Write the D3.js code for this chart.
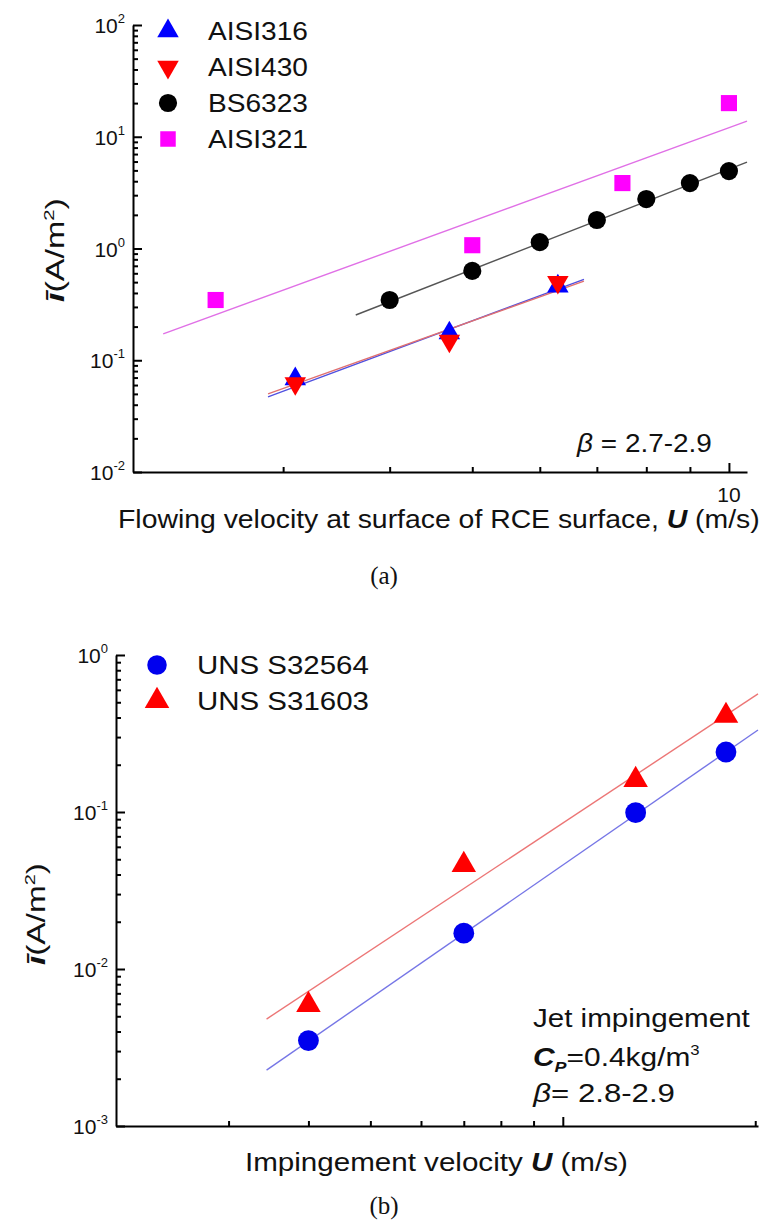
<!DOCTYPE html>
<html>
<head>
<meta charset="utf-8">
<script src="https://cdn.jsdelivr.net/npm/d3@7"></script>
<style>
  body { margin: 0; background: #fff; }
  svg { display: block; font-family: "Liberation Sans", Arial, sans-serif; }
  .axis path, .axis line { stroke: #000; stroke-width: 2; }
</style>
</head>
<body>
<svg id="chart" width="767" height="1222"></svg>
<script>
// ---- panel (a) data ----
var aX316 = [3.1, 4.7, 6.3];
var aY316 = [0.068, 0.175, 0.46];
var aX430 = [3.1, 4.7, 6.3];
var aY430 = [0.062, 0.149, 0.50];
var aXbs = [4, 5, 6, 7, 8, 9, 10];
var aYbs = [0.346, 0.63, 1.14, 1.8, 2.77, 3.85, 4.93];
var aX321 = [2.5, 5, 7.5, 10];
var aY321 = [0.346, 1.07, 3.85, 20];
// fitted lines, [x, y] end points
var aFit316 = [[2.88, 0.047], [6.76, 0.53]];
var aFit430 = [[2.88, 0.050], [6.76, 0.51]];
var aFitBs = [[3.65, 0.254], [10.5, 5.94]];
var aFit321 = [[2.17, 0.172], [10.5, 13.8]];
var aXTicks = [3, 4, 5, 6, 7, 8, 9, 10];
var aYDecades = [-2, -1, 0, 1, 2];

// ---- panel (b) data ----
var bX = [4, 7, 13, 18];
var bY564 = [0.0035, 0.0169, 0.099, 0.241];
var bY603 = [0.0059, 0.046, 0.16, 0.41];
var bFit564 = [[3.44, 0.00227], [20.2, 0.333]];
var bFit603 = [[3.44, 0.0048], [20.2, 0.565]];
var bXTicks = [3, 4, 5, 6, 7, 8, 9, 10, 20];
var bYDecades = [-3, -2, -1, 0];

var svg = d3.select("#chart");

function isDecade(v) {
  var l = Math.log10(v);
  return Math.abs(l - Math.round(l)) < 1e-6;
}

// stretch a text horizontally so it spans w pixels (the source figure is wider than Arial)
function stretch(sel, w) {
  var b = sel.node().getBBox();
  var s = w / b.width;
  var old = sel.attr("transform") || "";
  sel.attr("transform", "translate(" + b.x + ",0) scale(" + s + ",1) translate(" + (-b.x) + ",0) " + old);
}

function drawPanel(o) {
  var x = d3.scaleLog().domain(o.xDom).range([o.left, o.right]);
  var y = d3.scaleLog().domain(o.yDom).range([o.bottom, o.top]);
  var g = svg.append("g");

  // y axis, ticks pointing into the plot
  var yTicks = [];
  o.yDecades.forEach(function(e, i) {
    yTicks.push(Math.pow(10, e));
    if (i < o.yDecades.length - 1)
      for (var k = 2; k <= 9; k++) yTicks.push(k * Math.pow(10, e));
  });
  var ya = g.append("g").attr("class", "axis")
    .attr("transform", "translate(" + o.left + ",0)")
    .call(d3.axisLeft(y).tickValues(yTicks).tickFormat("").tickSizeOuter(0).tickSizeInner(-5));
  ya.selectAll(".tick line").attr("x2", function(d) { return isDecade(d) ? 9 : 5; })
    .attr("stroke-width", 1.5);

  var xa = g.append("g").attr("class", "axis")
    .attr("transform", "translate(0," + o.bottom + ")")
    .call(d3.axisBottom(x).tickValues(o.xTicks).tickFormat("").tickSizeOuter(0).tickSizeInner(-5));
  xa.selectAll(".tick line").attr("y2", function(d) { return d === 10 ? -9 : -5; })
    .attr("stroke-width", 1.5);

  // decade labels 10^n
  o.yDecades.forEach(function(e) {
    var t = g.append("text").attr("x", o.left - 8).attr("y", y(Math.pow(10, e)) + 8)
      .attr("text-anchor", "end").attr("font-size", 21).attr("fill", "#111");
    t.append("tspan").text("10");
    t.append("tspan").attr("dy", -10).attr("font-size", 13).text(String(e));
  });

  if (o.xLabels) o.xLabels.forEach(function(v) {
    g.append("text").attr("x", x(v)).attr("y", o.bottom + 30)
      .attr("text-anchor", "middle").attr("font-size", 21).attr("fill", "#111").text(v);
  });

  var line = d3.line().x(function(d) { return x(d[0]); }).y(function(d) { return y(d[1]); });
  o.fits.forEach(function(f) {
    g.append("path").datum(f.pts).attr("d", line)
      .attr("fill", "none").attr("stroke", f.color).attr("stroke-width", 1.4);
  });

  o.series.forEach(function(s) {
    var pts = s.xs.map(function(v, i) { return [v, s.ys[i]]; });
    g.selectAll(null).data(pts).enter().append("path")
      .attr("d", d3.symbol().type(s.type).size(s.size))
      .attr("transform", function(d) {
        return "translate(" + x(d[0]) + "," + y(d[1]) + ")" + (s.flip ? " rotate(180)" : "");
      })
      .attr("fill", s.color);
  });

  // legend
  o.series.forEach(function(s, i) {
    var ly = o.legY + i * o.legStep;
    g.append("path").attr("d", d3.symbol().type(s.type).size(s.legSize || s.size))
      .attr("transform", "translate(" + o.legX + "," + ly + ")" + (s.flip ? " rotate(180)" : ""))
      .attr("fill", s.color);
    var lt = g.append("text").attr("x", o.legX + 40).attr("y", ly + 9)
      .attr("font-size", 25).attr("fill", "#111").text(s.name);
    stretch(lt, o.legW);
  });

  // y title
  var yt = g.append("text").attr("x", 0).attr("y", 0)
    .attr("font-size", 25).attr("fill", "#111");
  yt.append("tspan").attr("font-weight", "bold").attr("font-style", "italic").text("\u012B");
  yt.append("tspan").text("(A/m");
  yt.append("tspan").attr("dy", -10).attr("font-size", 15).text("2");
  yt.append("tspan").attr("dy", 10).text(")");
  var bb = yt.node().getBBox();
  var sc = o.yTitleLen / bb.width;
  yt.attr("transform", "translate(" + o.yTitleX + "," + o.yTitleY + ") rotate(-90) scale(" + sc + ",1) translate(" + (-bb.width / 2) + ",0)");
  return { x: x, y: y, g: g };
}

// ---- panel (a) ----
drawPanel({
  left: 133, right: 747, top: 25, bottom: 472,
  xDom: [2, 10.5], yDom: [0.01, 100],
  xTicks: aXTicks, xLabels: [10], yDecades: aYDecades,
  fits: [
    { pts: aFit321, color: "#e070e6" },
    { pts: aFitBs, color: "#555" },
    { pts: aFit316, color: "#5050e0" },
    { pts: aFit430, color: "#e07070" }
  ],
  series: [
    { name: "AISI316", xs: aX316, ys: aY316, type: d3.symbolTriangle, size: 200, color: "#0000ff" },
    { name: "AISI430", xs: aX430, ys: aY430, type: d3.symbolTriangle, size: 200, color: "#ff0000", flip: true },
    { name: "BS6323", xs: aXbs, ys: aYbs, type: d3.symbolCircle, size: 260, color: "#000" },
    { name: "AISI321", xs: aX321, ys: aY321, type: d3.symbolSquare, size: 260, color: "#ff00ff", legSize: 240 }
  ],
  legX: 168, legY: 31, legStep: 36, legW: 100,
  yTitleX: 64, yTitleY: 250, yTitleLen: 104
});

var ta = svg.append("text").attr("x", 118).attr("y", 528).attr("font-size", 25).attr("fill", "#111");
ta.append("tspan").text("Flowing velocity at surface of RCE surface, ");
ta.append("tspan").attr("font-weight", "bold").attr("font-style", "italic").text("U");
ta.append("tspan").text(" (m/s)");
stretch(ta, 642);

var ba = svg.append("text").attr("x", 577).attr("y", 452).attr("font-size", 25).attr("fill", "#111");
ba.append("tspan").attr("font-style", "italic").text("\u03B2");
ba.append("tspan").text(" = 2.7-2.9");
stretch(ba, 136);

svg.append("text").attr("x", 384).attr("y", 584).attr("text-anchor", "middle")
  .attr("font-family", "'Liberation Serif', 'Times New Roman', serif").attr("font-size", 25)
  .attr("fill", "#111").text("(a)");

// ---- panel (b) ----
drawPanel({
  left: 116, right: 758, top: 655, bottom: 1126,
  xDom: [2, 20.2], yDom: [0.001, 1],
  xTicks: bXTicks, xLabels: null, yDecades: bYDecades,
  fits: [
    { pts: bFit603, color: "#ec7676" },
    { pts: bFit564, color: "#7676e6" }
  ],
  series: [
    { name: "UNS S32564", xs: bX, ys: bY564, type: d3.symbolCircle, size: 340, color: "#0000ee", legSize: 300 },
    { name: "UNS S31603", xs: bX, ys: bY603, type: d3.symbolTriangle, size: 260, color: "#ff0000" }
  ],
  legX: 157, legY: 665, legStep: 36, legW: 172,
  yTitleX: 45, yTitleY: 914, yTitleLen: 102
});

var tb = svg.append("text").attr("x", 245).attr("y", 1171).attr("font-size", 25).attr("fill", "#111");
tb.append("tspan").text("Impingement velocity ");
tb.append("tspan").attr("font-weight", "bold").attr("font-style", "italic").text("U");
tb.append("tspan").text(" (m/s)");
stretch(tb, 383);

var n1 = svg.append("text").attr("x", 533).attr("y", 1027).attr("font-size", 25).attr("fill", "#111")
  .text("Jet impingement");
stretch(n1, 217);
var n2 = svg.append("text").attr("x", 533).attr("y", 1066).attr("font-size", 25).attr("fill", "#111");
n2.append("tspan").attr("font-weight", "bold").attr("font-style", "italic").text("C");
n2.append("tspan").attr("font-weight", "bold").attr("font-style", "italic").attr("font-size", 15).attr("dy", 6).text("P");
n2.append("tspan").attr("dy", -6).text("=0.4kg/m");
n2.append("tspan").attr("dy", -11).attr("font-size", 14).text("3");
stretch(n2, 167);
var n3 = svg.append("text").attr("x", 533).attr("y", 1102).attr("font-size", 25).attr("fill", "#111");
n3.append("tspan").attr("font-style", "italic").text("\u03B2");
n3.append("tspan").text("= 2.8-2.9");
stretch(n3, 143);

svg.append("text").attr("x", 384).attr("y", 1214).attr("text-anchor", "middle")
  .attr("font-family", "'Liberation Serif', 'Times New Roman', serif").attr("font-size", 25)
  .attr("fill", "#111").text("(b)");
</script>
</body>
</html>
